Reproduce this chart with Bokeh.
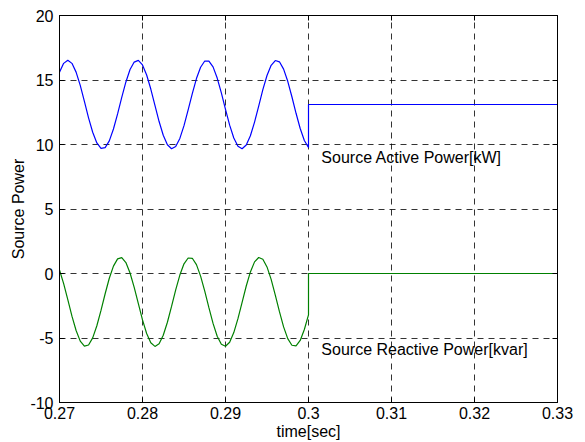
from bokeh.plotting import figure
from bokeh.models import Range1d, FixedTicker, LinearAxis, Label
from bokeh.embed import file_html
from bokeh.resources import INLINE

# sampled time (s)
time = [0.2700, 0.2705, 0.2710, 0.2715, 0.2720, 0.2725, 0.2730, 0.2735, 0.2740, 0.2745,
        0.2750, 0.2755, 0.2760, 0.2765, 0.2770, 0.2775, 0.2780, 0.2785, 0.2790, 0.2795,
        0.2800, 0.2805, 0.2810, 0.2815, 0.2820, 0.2825, 0.2830, 0.2835, 0.2840, 0.2845,
        0.2850, 0.2855, 0.2860, 0.2865, 0.2870, 0.2875, 0.2880, 0.2885, 0.2890, 0.2895,
        0.2900, 0.2905, 0.2910, 0.2915, 0.2920, 0.2925, 0.2930, 0.2935, 0.2940, 0.2945,
        0.2950, 0.2955, 0.2960, 0.2965, 0.2970, 0.2975, 0.2980, 0.2985, 0.2990, 0.2995,
        0.3000, 0.3000, 0.3300]

# Source Active Power [kW]
active_power = [15.61, 16.29, 16.53, 16.29, 15.61, 14.58, 13.34, 12.07, 10.95, 10.12,
                9.70, 9.76, 10.28, 11.20, 12.37, 13.65, 14.85, 15.81, 16.39, 16.52,
                16.17, 15.39, 14.30, 13.04, 11.78, 10.72, 9.98, 9.67, 9.85, 10.47,
                11.46, 12.68, 13.95, 15.11, 15.99, 16.47, 16.47, 16.02, 15.15, 14.00,
                12.73, 11.50, 10.50, 9.86, 9.67, 9.96, 10.68, 11.74, 12.98, 14.25,
                15.35, 16.14, 16.51, 16.41, 15.84, 14.90, 13.70, 12.42, 11.24, 10.31,
                9.77, 13.1, 13.1]

# Source Reactive Power [kvar]
reactive_power = [0.27, -0.78, -2.03, -3.31, -4.42, -5.24, -5.63, -5.54, -4.99, -4.05,
                  -2.86, -1.57, -0.37, 0.57, 1.13, 1.23, 0.85, 0.04, -1.07, -2.34,
                  -3.60, -4.65, -5.37, -5.65, -5.45, -4.79, -3.78, -2.55, -1.27, -0.12,
                  0.75, 1.20, 1.18, 0.69, -0.20, -1.37, -2.65, -3.87, -4.86, -5.48,
                  -5.64, -5.33, -4.58, -3.50, -2.24, -0.97, 0.12, 0.90, 1.24, 1.10,
                  0.51, -0.46, -1.67, -2.96, -4.14, -5.05, -5.56, -5.61, -5.19, -4.34,
                  -3.21, 0.0, 0.0]

x_ticks = [0.27, 0.28, 0.29, 0.30, 0.31, 0.32, 0.33]
x_tick_labels = ["0.27", "0.28", "0.29", "0.3", "0.31", "0.32", "0.33"]
y_ticks = [-10, -5, 0, 5, 10, 15, 20]
y_tick_labels = ["-10", "-5", "0", "5", "10", "15", "20"]

FONT = "Liberation Sans"
FS = "16px"

p = figure(width=585, height=442, output_backend="svg", toolbar_location=None,
           x_range=Range1d(0.27, 0.33), y_range=Range1d(-10, 20),
           min_border_left=59, min_border_right=28, min_border_top=15, min_border_bottom=40)
p.background_fill_color = "white"
p.border_fill_color = "white"
p.outline_line_color = "black"
p.outline_line_width = 1

p.line(time, active_power, line_color="#0000FF", line_width=1.2)
p.line(time, reactive_power, line_color="#008000", line_width=1.2)

for ax in (p.xaxis[0], p.yaxis[0]):
    ax.major_tick_in = 5
    ax.major_tick_out = 0
    ax.minor_tick_line_color = None
    ax.axis_line_color = "black"
    ax.major_tick_line_color = "black"
    ax.major_label_text_font = FONT
    ax.major_label_text_font_size = FS
    ax.major_label_text_color = "black"
    ax.axis_label_text_font = FONT
    ax.axis_label_text_font_size = FS
    ax.axis_label_text_font_style = "normal"
    ax.axis_label_text_color = "black"

p.xaxis[0].ticker = FixedTicker(ticks=x_ticks)
p.xaxis[0].major_label_overrides = dict(zip(x_ticks, x_tick_labels))
p.xaxis[0].major_label_standoff = 4
p.xaxis[0].axis_label = "time[sec]"
p.xaxis[0].axis_label_standoff = 1

p.yaxis[0].ticker = FixedTicker(ticks=y_ticks)
p.yaxis[0].major_label_overrides = dict(zip(y_ticks, y_tick_labels))
p.yaxis[0].major_label_standoff = 6
p.yaxis[0].axis_label = "Source Power"
p.yaxis[0].axis_label_standoff = 0

top = LinearAxis(ticker=FixedTicker(ticks=x_ticks), major_tick_in=5, major_tick_out=0,
                 minor_tick_line_color=None, major_label_text_font_size="2px",
                 major_label_text_color=None, major_label_standoff=0,
                 axis_line_color="black")
right = LinearAxis(ticker=FixedTicker(ticks=y_ticks), major_tick_in=5, major_tick_out=0,
                   minor_tick_line_color=None, major_label_text_font_size="2px",
                   major_label_text_color=None, major_label_standoff=0,
                   axis_line_color="black")
p.add_layout(top, "above")
p.add_layout(right, "right")

p.xgrid.ticker = FixedTicker(ticks=x_ticks)
p.ygrid.ticker = FixedTicker(ticks=y_ticks)
for g in (p.xgrid[0], p.ygrid[0]):
    g.grid_line_color = "black"
    g.grid_line_dash = "6 5"
    g.grid_line_width = 1
    g.grid_line_alpha = 0.8

p.add_layout(Label(x=0.30155, y=9.0, text="Source Active Power[kW]", text_font=FONT,
                   text_font_size=FS, text_baseline="middle", text_align="left",
                   text_color="black"))
p.add_layout(Label(x=0.30155, y=-5.9, text="Source Reactive Power[kvar]", text_font=FONT,
                   text_font_size=FS, text_baseline="middle", text_align="left",
                   text_color="black"))

open("out.html", "w").write(file_html(p, INLINE))
